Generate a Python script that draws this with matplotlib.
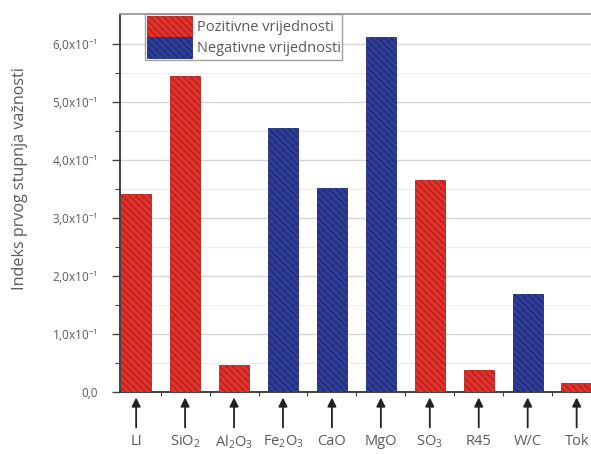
import matplotlib
matplotlib.use("Agg")
import matplotlib.pyplot as plt
from matplotlib.patches import Patch
import numpy as np

categories = ["LI", "SiO$_2$", "Al$_2$O$_3$", "Fe$_2$O$_3$", "CaO", "MgO", "SO$_3$", "R45", "W/C", "Tok"]
values = [0.341, 0.544, 0.046, 0.455, 0.351, 0.611, 0.365, 0.037, 0.168, 0.015]
signs = ["pos", "pos", "pos", "neg", "neg", "neg", "pos", "pos", "neg", "pos"]
yticks = [0.0, 0.1, 0.2, 0.3, 0.4, 0.5, 0.6]
ytick_labels = ["0,0", "1,0x10$^{-1}$", "2,0x10$^{-1}$", "3,0x10$^{-1}$",
                "4,0x10$^{-1}$", "5,0x10$^{-1}$", "6,0x10$^{-1}$"]
legend_labels = ["Pozitivne vrijednosti", "Negativne vrijednosti"]
ylabel = "Indeks prvog stupnja važnosti"

RED, RED_E = "#e5322b", "#b82420"
BLUE, BLUE_E = "#2e3e9a", "#222f78"
TXT = "#5a5a5a"
HATCH = "\\\\\\\\\\"

plt.rcParams["font.family"] = ["Open Sans", "DejaVu Sans"]
plt.rcParams["hatch.linewidth"] = 1.3
plt.rcParams["mathtext.fontset"] = "custom"
plt.rcParams["mathtext.rm"] = "Open Sans"
plt.rcParams["mathtext.it"] = "Open Sans"

fig = plt.figure(figsize=(5.91, 4.54), dpi=100)
W, H = 591, 454
x0_px, y0_px, ytop_px = 120, 391.7, 14
ax = fig.add_axes([x0_px / W, (H - y0_px) / H, (606 - x0_px) / W, (y0_px - ytop_px) / H])

x = np.arange(len(categories))
for xi, v, s in zip(x, values, signs):
    fc, ec = (RED, RED_E) if s == "pos" else (BLUE, BLUE_E)
    ax.bar(xi, v, width=0.62, color=fc, edgecolor=ec, hatch=HATCH, linewidth=0.6, zorder=3)

ax.set_xlim(-0.33, 9.6)
ax.set_ylim(0, 0.651)
ax.set_yticks(yticks)
ax.set_yticklabels(ytick_labels)
ax.set_yticks(np.arange(0.05, 0.65, 0.1), minor=True)
ax.yaxis.grid(True, which="major", color="#d5d5d5", linewidth=1.0, zorder=0)
ax.yaxis.grid(True, which="minor", color="#ececec", linewidth=0.8, zorder=0)
ax.set_axisbelow(True)

ax.set_xticks(x + 0.5, minor=True)
ax.set_xticks([])
ax.tick_params(axis="x", which="minor", length=3, color="#444444", width=0.8)
ax.tick_params(axis="y", which="major", length=6, color="#444444", width=1.0, labelsize=8.5,
               labelcolor=TXT, pad=10)
ax.tick_params(axis="y", which="minor", length=3.5, color="#444444", width=0.8)

for side in ["left", "bottom"]:
    ax.spines[side].set_color("#333333")
    ax.spines[side].set_linewidth(1.3)
ax.spines["top"].set_color("#999999")
ax.spines["top"].set_linewidth(1.3)
ax.spines["right"].set_visible(False)

ax.set_ylabel(ylabel, fontsize=11.6, color=TXT)
ax.yaxis.set_label_coords(-0.19, 0.565)

trans = ax.get_xaxis_transform()
for xi, lab in zip(x, categories):
    ax.annotate("", xy=(xi, -0.008), xytext=(xi, -0.102), xycoords=trans, textcoords=trans,
                arrowprops=dict(arrowstyle="-|>", color="#222222", lw=1.3, mutation_scale=13),
                annotation_clip=False)
    ax.text(xi, -0.112, lab, transform=trans, ha="center", va="top", fontsize=10.5, color=TXT, clip_on=False)

handles = [Patch(facecolor=RED, edgecolor=RED_E, hatch=HATCH, linewidth=0.6),
           Patch(facecolor=BLUE, edgecolor=BLUE_E, hatch=HATCH, linewidth=0.6)]
leg = ax.legend(handles, legend_labels, loc="upper left", bbox_to_anchor=(0.051, 1.0),
                fontsize=10.5, frameon=True, fancybox=False, edgecolor="#888888",
                handlelength=3.1, handleheight=1.85, handletextpad=0.35, borderpad=0.12,
                labelspacing=0.0, borderaxespad=0.0, labelcolor=TXT)
leg.get_frame().set_linewidth(1.0)

fig.savefig("out.png", dpi=100)
